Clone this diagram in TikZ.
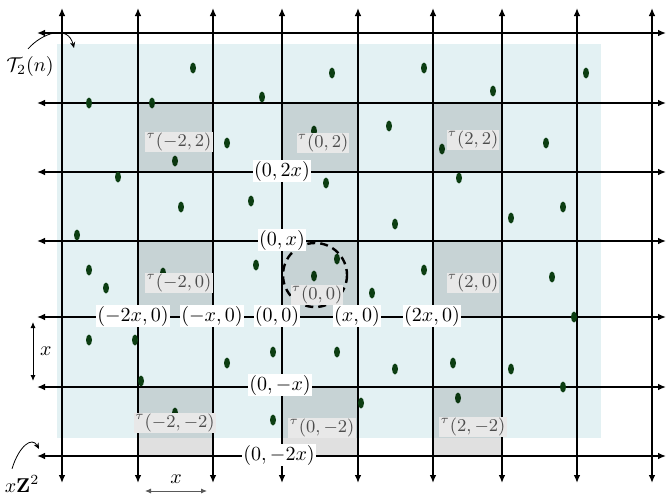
\documentclass[tikz,border=0pt]{standalone}
\usepackage{amsmath,amssymb}
\usepackage{tikz}
\usepackage{xcolor}
\usetikzlibrary{arrows.meta}
\definecolor{regionblue}{RGB}{227,241,243}
\definecolor{dotgreen}{RGB}{12,62,18}

\begin{document}
\begin{tikzpicture}[x=0.5pt,y=-0.5pt,every node/.style={font=\normalsize},
  axis/.style={line width=1pt,{Latex[length=4pt,width=3.4pt]}-{Latex[length=4pt,width=3.4pt]}},
  tile/.style={fill=black,fill opacity=0.12},
  coordlabel/.style={fill=white,inner sep=0.6pt},
  taulabel/.style={fill=black!9,text=black!70,inner sep=0.6pt,font=\small},
  measure/.style={line width=0.5pt,{Latex[length=3pt,width=2.6pt]}-{Latex[length=3pt,width=2.6pt]}},
  pointer/.style={line width=0.4pt,-{Stealth[length=3pt,width=2.6pt]}}]
\useasboundingbox (0,0) rectangle (669,498);
\fill[regionblue] (57,44) rectangle (601,438);
% grid of xZ^2
\foreach \c in {62,138,213,282,358,433,502,577,652}
  \draw[axis] (\c,483) -- (\c,8);
\foreach \r in {33,103,172,241,317,387,456}
  \draw[axis] (37,\r) -- (666,\r);
% points of the process
\foreach \p in {(193,68),(89,103),(152,103),(227,143),(175,161),(118,177),
  (332,73),(262,97),(424,68),(314,131),(389,126),(442,149),(326,183),
  (459,178),(493,91),(586,73),(546,143),(181,207),(77,235),(89,270),
  (106,288),(163,273),(89,340),(135,340),(227,363),(141,381),(175,413),
  (251,201),(395,224),(256,265),(337,259),(314,276),(424,270),(372,293),
  (511,218),(563,207),(552,277),(574,317),(273,352),(337,352),(395,369),
  (453,363),(273,420),(361,403),(458,398),(511,369),(563,387)}
  \fill[dotgreen] \p ellipse (3 and 5.5);
% shaded tiles
\foreach \a/\b/\c/\d in {138/103/213/172,282/103/358/172,433/103/502/172,
  138/241/213/317,282/241/358/317,433/241/502/317,
  138/387/213/456,282/387/358/456,433/387/502/456}
  \fill[tile] (\a,\b) rectangle (\c,\d);
\draw[line width=1.2pt,dash pattern=on 4pt off 2.5pt] (315,275) circle (32);
% tile names
\node[taulabel] (tm2p2) at (179,142) {${}^{\tau}(-2,2)$};
\node[taulabel] (t0p2) at (323,143) {${}^{\tau}(0,2)$};
\node[taulabel] (tp2p2) at (473,140) {${}^{\tau}(2,2)$};
\node[taulabel] (tm20) at (179,283) {${}^{\tau}(-2,0)$};
\node[taulabel] (t00) at (317,295) {${}^{\tau}(0,0)$};
\node[taulabel] (tp20) at (473,283) {${}^{\tau}(2,0)$};
\node[taulabel] (tm2m2) at (175,423) {${}^{\tau}(-2,-2)$};
\node[taulabel] (t0m2) at (322,428) {${}^{\tau}(0,-2)$};
\node[taulabel] (tp2m2) at (473,427) {${}^{\tau}(2,-2)$};
% lattice points
\node[coordlabel] (c0p2) at (282,171) {$(0,2x)$};
\node[coordlabel] (c0p1) at (282,240) {$(0,x)$};
\node[coordlabel] (cm20) at (133,316) {$(-2x,0)$};
\node[coordlabel] (cm10) at (212,316) {$(-x,0)$};
\node[coordlabel] (c00) at (277,316) {$(0,0)$};
\node[coordlabel] (cp10) at (357,316) {$(x,0)$};
\node[coordlabel] (cp20) at (432,316) {$(2x,0)$};
\node[coordlabel] (c0m1) at (280,385) {$(0,-x)$};
\node[coordlabel] (c0m2) at (279,455) {$(0,-2x)$};
% set and lattice names
\node (tset) at (30,66) {$\mathcal{T}_2(n)$};
\coordinate (tsettip) at (74,48);
\draw[pointer] ([xshift=-1pt]tset.north) .. controls (42,33) and (68,24) .. (tsettip);
\node (lattice) at (22,484) {$x\mathbf{Z}^2$};
\coordinate (latticetip) at (39,449);
\draw[pointer] ([xshift=-5pt]lattice.north) .. controls (19,446) and (32,436) .. (latticetip);
% side lengths
\coordinate (mvtop) at (33,322);
\coordinate (mvbot) at (33,381);
\draw[measure] (mvtop) -- node[right] {$x$} (mvbot);
\coordinate (mhleft) at (145,491);
\coordinate (mhright) at (207,491);
\draw[measure,black!65] (mhleft) -- node[above,black] {$x$} (mhright);
\end{tikzpicture}
\end{document}
